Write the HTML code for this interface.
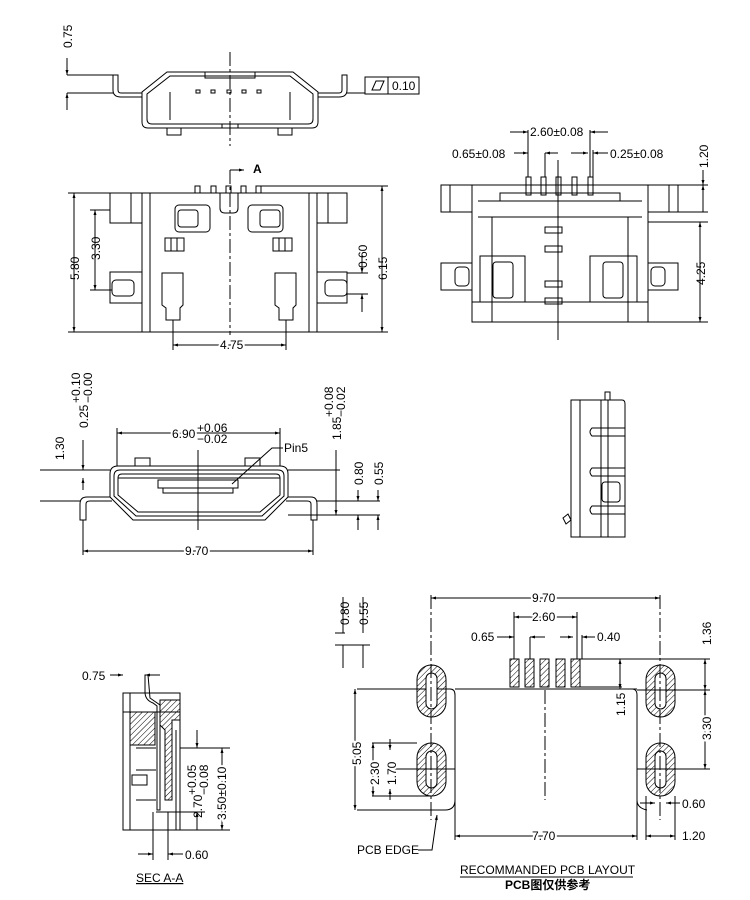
<!DOCTYPE html>
<html><head><meta charset="utf-8"><style>
html,body{margin:0;padding:0;background:#fff}
svg{display:block}
text{font-family:"Liberation Sans","Noto Sans CJK SC",sans-serif;font-size:12px;fill:#000}
</style></head><body>
<svg width="750" height="900" viewBox="0 0 750 900" xmlns="http://www.w3.org/2000/svg">
<defs>
<pattern id="h" width="4" height="4" patternUnits="userSpaceOnUse" patternTransform="rotate(45)"><line x1="0" y1="0" x2="0" y2="4" stroke="#000" stroke-width="1"/></pattern>
<marker id="a" viewBox="0 0 10 10" refX="10" refY="5" markerWidth="7" markerHeight="5" orient="auto-start-reverse"><path d="M0,2 L10,5 L0,8z" fill="#000"/></marker>
</defs>
<g fill="none" stroke="#000" stroke-width="1">
<!-- TOP VIEW -->
<path d="M167,72 L293,72 L318,92 L318,122 Q318,128 312,128 L148,128 Q142,128 142,122 L142,92 Z"/>
<path d="M170,76 L290,76 L313,94 L313,119 Q313,124 308,124 L152,124 Q147,124 147,119 L147,94 Z"/>
<path d="M113,75 L118,75 L118,90 Q118,93 121,93 L142,93 L142,97 L121,97 Q113,97 113,90 Z"/>
<path d="M347,75 L342,75 L342,90 Q342,93 339,93 L318,93 L318,97 L339,97 Q347,97 347,90 Z"/>
<rect x="167" y="128" width="14" height="7"/><rect x="278" y="128" width="14" height="7"/>
<rect x="205" y="72" width="50" height="6"/><rect x="222" y="124" width="16" height="4"/>
<rect x="196" y="90" width="4" height="3"/><rect x="211" y="90" width="4" height="3"/><rect x="227" y="90" width="4" height="3"/><rect x="242" y="90" width="4" height="3"/><rect x="257" y="90" width="4" height="3"/>
<line x1="170" y1="92" x2="170" y2="120"/><line x1="290" y1="92" x2="290" y2="120"/>
<line x1="230" y1="52" x2="230" y2="146" stroke-dasharray="14,3,3,3"/>
<line x1="67" y1="75" x2="113" y2="75"/><line x1="67" y1="93" x2="113" y2="93"/>
<line x1="67" y1="58" x2="67" y2="75" marker-end="url(#a)"/><line x1="67" y1="110" x2="67" y2="93" marker-end="url(#a)"/>
<line x1="347" y1="93" x2="365" y2="93"/>
<rect x="365" y="77" width="54" height="17"/><line x1="388" y1="77" x2="388" y2="94"/>
<path d="M372,90 L376,81 L384,81 L380,90 Z"/>
<!-- TOP VIEW 2 -->
<rect x="142" y="193" width="175" height="139"/>
<line x1="150" y1="193" x2="150" y2="332"/><line x1="309" y1="193" x2="309" y2="332"/>
<rect x="110" y="193" width="32" height="30"/><line x1="131" y1="193" x2="131" y2="223"/>
<rect x="317" y="193" width="30" height="30"/><line x1="328" y1="193" x2="328" y2="223"/>
<rect x="110" y="272" width="32" height="31"/><rect x="112" y="280" width="22" height="16" rx="4"/>
<rect x="317" y="272" width="30" height="31"/><rect x="325" y="280" width="22" height="16" rx="4"/>
<rect x="195" y="186" width="5" height="7"/><rect x="211" y="186" width="5" height="7"/><rect x="226" y="186" width="5" height="7"/><rect x="241" y="186" width="5" height="7"/><rect x="256" y="186" width="5" height="7"/>
<path d="M220,193 L220,208 Q220,213 225,213 L233,213 Q238,213 238,208 L238,193"/>
<rect x="175" y="205" width="35" height="27" rx="4"/><rect x="178" y="210" width="20" height="17" rx="3"/>
<rect x="248" y="205" width="35" height="27" rx="4"/><rect x="260" y="210" width="20" height="17" rx="3"/>
<rect x="165" y="238" width="19" height="13"/><line x1="171" y1="238" x2="171" y2="251"/><line x1="177" y1="238" x2="177" y2="251"/>
<rect x="273" y="238" width="19" height="13"/><line x1="279" y1="238" x2="279" y2="251"/><line x1="285" y1="238" x2="285" y2="251"/>
<path d="M162,273 L183,273 L183,305 L180,308 L180,320 L166,320 L166,308 L162,305 Z"/>
<path d="M275,273 L296,273 L296,305 L293,308 L293,320 L279,320 L279,308 L275,305 Z"/>
<line x1="230" y1="170" x2="230" y2="335" stroke-dasharray="14,3,3,3"/>
<path d="M230,170 L244,170" marker-end="url(#a)"/>
<line x1="68" y1="193" x2="110" y2="193"/><line x1="68" y1="332" x2="142" y2="332"/>
<line x1="74" y1="193" x2="74" y2="332" marker-start="url(#a)" marker-end="url(#a)"/>
<line x1="90" y1="210" x2="110" y2="210"/><line x1="90" y1="290" x2="112" y2="290"/>
<line x1="95" y1="210" x2="95" y2="290" marker-start="url(#a)" marker-end="url(#a)"/>
<line x1="261" y1="186" x2="388" y2="186"/><line x1="317" y1="332" x2="388" y2="332"/>
<line x1="382" y1="186" x2="382" y2="332" marker-start="url(#a)" marker-end="url(#a)"/>
<line x1="347" y1="273" x2="368" y2="273"/><line x1="347" y1="294" x2="368" y2="294"/>
<line x1="362" y1="255" x2="362" y2="273" marker-end="url(#a)"/><line x1="362" y1="312" x2="362" y2="294" marker-end="url(#a)"/>
<line x1="173" y1="320" x2="173" y2="350"/><line x1="286" y1="320" x2="286" y2="350"/>
<line x1="173" y1="345" x2="286" y2="345" marker-start="url(#a)" marker-end="url(#a)"/>
<!-- RIGHT TOP VIEW -->
<rect x="472" y="185" width="176" height="137"/>
<rect x="441" y="185" width="31" height="27"/><line x1="450" y1="185" x2="450" y2="212"/>
<rect x="648" y="185" width="30" height="27"/><line x1="669" y1="185" x2="669" y2="212"/>
<rect x="441" y="263" width="31" height="27"/><rect x="455" y="267" width="14" height="19" rx="4"/>
<rect x="648" y="263" width="30" height="27"/><rect x="651" y="267" width="14" height="19" rx="4"/>
<path d="M500,201 L500,193 L620,193 L620,201"/><line x1="478" y1="201" x2="642" y2="201"/>
<line x1="478" y1="217" x2="642" y2="217"/><line x1="492" y1="217" x2="492" y2="322"/><line x1="628" y1="217" x2="628" y2="322"/>
<line x1="472" y1="302" x2="648" y2="302"/>
<rect x="480" y="256" width="45" height="46"/><rect x="493" y="262" width="20" height="36" rx="3"/>
<rect x="590" y="256" width="47" height="46"/><rect x="603" y="262" width="20" height="36" rx="3"/>
<rect x="526" y="177" width="5" height="18"/><rect x="541" y="177" width="5" height="18"/><rect x="556" y="177" width="5" height="18"/><rect x="572" y="177" width="5" height="18"/><rect x="588" y="177" width="5" height="18"/>
<rect x="545" y="227" width="17" height="6"/><rect x="545" y="246" width="17" height="6"/><rect x="545" y="281" width="17" height="6"/><rect x="545" y="298" width="17" height="6"/>
<line x1="558" y1="160" x2="558" y2="340"/>
<line x1="528" y1="130" x2="528" y2="177"/><line x1="590" y1="130" x2="590" y2="177"/>
<line x1="510" y1="132" x2="528" y2="132" marker-end="url(#a)"/><line x1="608" y1="132" x2="590" y2="132" marker-end="url(#a)"/>
<line x1="514" y1="153" x2="528" y2="153" marker-end="url(#a)"/><line x1="545" y1="153" x2="558" y2="153" marker-start="url(#a)"/>
<line x1="571" y1="153" x2="588" y2="153" marker-end="url(#a)"/><line x1="608" y1="153" x2="593" y2="153" marker-end="url(#a)"/>
<line x1="545" y1="153" x2="545" y2="177"/><line x1="593" y1="150" x2="593" y2="177"/>
<line x1="648" y1="185" x2="708" y2="185"/><line x1="678" y1="212" x2="708" y2="212"/><line x1="648" y1="222" x2="708" y2="222"/><line x1="648" y1="322" x2="708" y2="322"/>
<line x1="703" y1="170" x2="703" y2="185" marker-end="url(#a)"/><line x1="703" y1="212" x2="703" y2="185" marker-end="url(#a)"/>
<line x1="700" y1="222" x2="700" y2="322" marker-start="url(#a)" marker-end="url(#a)"/>
<!-- FRONT VIEW -->
<path d="M110,497 L110,474 Q110,466 118,466 L280,466 Q288,466 288,474 L288,497 L265,520 L133,520 Z"/>
<path d="M114,496 L114,476 Q114,470 120,470 L278,470 Q284,470 284,476 L284,496 L262,516 L136,516 Z"/>
<path d="M118,495 L118,478 Q118,474 122,474 L276,474 Q280,474 280,478 L280,495 L260,512 L138,512 Z"/>
<line x1="118" y1="478" x2="280" y2="478"/>
<rect x="135" y="458" width="15" height="8"/><rect x="245" y="458" width="15" height="8"/>
<path d="M158,480 L238,480 L238,488 L158,488 Z"/>
<path d="M163,488 L163,493 L233,493 L233,488"/>
<path d="M110,497 L87,497 Q80,497 80,504 L80,520 L86,520 L86,504 Q86,501 90,501 L112,501"/>
<path d="M288,497 L311,497 Q317,497 317,504 L317,520 L311,520 L311,504 Q311,501 307,501 L286,501"/>
<line x1="198" y1="450" x2="198" y2="530"/>
<line x1="117" y1="428" x2="117" y2="466"/><line x1="280" y1="428" x2="280" y2="466"/>
<line x1="117" y1="433" x2="280" y2="433" marker-start="url(#a)" marker-end="url(#a)"/>
<line x1="83" y1="520" x2="83" y2="555"/><line x1="313" y1="520" x2="313" y2="555"/>
<line x1="83" y1="551" x2="313" y2="551" marker-start="url(#a)" marker-end="url(#a)"/>
<path d="M232,484 L272,448 L283,448"/>
<line x1="40" y1="470" x2="110" y2="470"/><line x1="40" y1="501" x2="80" y2="501"/>
<line x1="83" y1="440" x2="83" y2="470" marker-end="url(#a)"/><line x1="83" y1="490" x2="83" y2="478" marker-end="url(#a)"/>
<line x1="288" y1="470" x2="340" y2="470"/><line x1="317" y1="501" x2="380" y2="501"/><line x1="288" y1="515" x2="380" y2="515"/>
<line x1="336" y1="450" x2="336" y2="515" marker-end="url(#a)"/>
<line x1="358" y1="490" x2="358" y2="501" marker-end="url(#a)"/><line x1="358" y1="530" x2="358" y2="515" marker-end="url(#a)"/>
<line x1="378" y1="490" x2="378" y2="501" marker-end="url(#a)"/><line x1="378" y1="530" x2="378" y2="515" marker-end="url(#a)"/>
<!-- SIDE VIEW -->
<path d="M571,400 L622,400 Q625,400 625,404 L625,537 L571,537 Z"/>
<line x1="580" y1="400" x2="580" y2="537"/><line x1="601" y1="400" x2="601" y2="537"/><line x1="608" y1="400" x2="608" y2="537"/>
<rect x="605" y="392" width="5" height="8"/>
<path d="M625,428 L592,428 Q588,432 592,436 L625,436"/>
<path d="M625,468 L592,468 Q588,472 592,476 L625,476"/>
<path d="M625,506 L592,506 Q588,510 592,514 L625,514"/>
<rect x="602" y="482" width="18" height="20" rx="3"/>
<path d="M563,518 L568,514 L571,520 L566,524 Z"/>
<!-- SECTION A-A -->
<rect x="123" y="693" width="57" height="137"/>
<line x1="123" y1="712" x2="180" y2="712"/><line x1="130" y1="693" x2="130" y2="830"/>
<path d="M130,712 L155,712 L155,745 L130,745 Z" fill="url(#h)"/>
<path d="M160,700 L180,700 L180,720 L172,720 L172,800 L165,800 L165,730 L160,725 Z" fill="url(#h)"/>
<path d="M145,675 L145,692 Q145,700 153,703 L157,706 L157,810 L160,810 L160,705 L150,698 L148,675 Z"/>
<line x1="136" y1="748" x2="156" y2="748"/><line x1="136" y1="770" x2="156" y2="770"/><line x1="136" y1="800" x2="156" y2="800"/>
<rect x="132" y="775" width="15" height="10"/>
<line x1="176" y1="730" x2="176" y2="830"/><line x1="156" y1="812" x2="180" y2="812"/>
<line x1="110" y1="675" x2="123" y2="675" marker-end="url(#a)"/><line x1="160" y1="675" x2="145" y2="675" marker-end="url(#a)"/>
<line x1="180" y1="748" x2="230" y2="748"/><line x1="180" y1="812" x2="205" y2="812"/><line x1="180" y1="830" x2="230" y2="830"/>
<line x1="197" y1="730" x2="197" y2="748" marker-end="url(#a)"/><line x1="197" y1="830" x2="197" y2="812" marker-end="url(#a)"/>
<line x1="222" y1="748" x2="222" y2="830" marker-start="url(#a)" marker-end="url(#a)"/>
<line x1="153" y1="812" x2="153" y2="860"/><line x1="168" y1="812" x2="168" y2="860"/>
<line x1="138" y1="854" x2="153" y2="854" marker-end="url(#a)"/><line x1="183" y1="854" x2="168" y2="854" marker-end="url(#a)"/>
<!-- PCB LAYOUT -->
<path d="M357,689 L450,689 Q455,689 455,695 L455,800 Q455,810 445,810 L357,810"/>
<path d="M637,689 L632,689 Q637,689 637,695 L637,800 Q637,808 647,810"/>
<line x1="455" y1="689" x2="637" y2="689"/>
<line x1="455" y1="800" x2="455" y2="840"/><line x1="637" y1="800" x2="637" y2="840"/>
<line x1="455" y1="836" x2="637" y2="836" marker-start="url(#a)" marker-end="url(#a)"/>
<g fill="url(#h)">
<rect x="417" y="665" width="29" height="52" rx="14.5"/><rect x="417" y="743" width="29" height="53" rx="14.5"/>
<rect x="646" y="665" width="29" height="52" rx="14.5"/><rect x="646" y="743" width="29" height="53" rx="14.5"/>
<rect x="510" y="659" width="9" height="28"/><rect x="525" y="659" width="9" height="28"/><rect x="540" y="659" width="9" height="28"/><rect x="556" y="659" width="9" height="28"/><rect x="571" y="659" width="9" height="28"/>
</g>
<g fill="#fff"><rect x="426" y="673" width="11" height="36" rx="5.5"/><rect x="426" y="751" width="11" height="37" rx="5.5"/><rect x="655" y="673" width="11" height="36" rx="5.5"/><rect x="655" y="751" width="11" height="37" rx="5.5"/></g>
<line x1="431" y1="595" x2="431" y2="820" stroke-dasharray="14,3,3,3"/><line x1="660" y1="595" x2="660" y2="820" stroke-dasharray="14,3,3,3"/>
<line x1="545" y1="690" x2="545" y2="800" stroke-dasharray="14,3,3,3"/>
<line x1="431" y1="598" x2="660" y2="598" marker-start="url(#a)" marker-end="url(#a)"/>
<line x1="514" y1="612" x2="514" y2="659"/><line x1="577" y1="612" x2="577" y2="659"/>
<line x1="514" y1="617" x2="577" y2="617" marker-start="url(#a)" marker-end="url(#a)"/>
<line x1="530" y1="637" x2="530" y2="659"/><line x1="582" y1="635" x2="582" y2="659"/>
<line x1="497" y1="637" x2="514" y2="637" marker-end="url(#a)"/><line x1="595" y1="637" x2="582" y2="637" marker-end="url(#a)"/>
<line x1="530" y1="637" x2="545" y2="637" marker-start="url(#a)"/><line x1="560" y1="637" x2="573" y2="637" marker-end="url(#a)"/>
<line x1="580" y1="659" x2="710" y2="659"/><line x1="580" y1="687" x2="622" y2="687"/><line x1="637" y1="690" x2="710" y2="690"/>
<line x1="620" y1="659" x2="620" y2="689" marker-start="url(#a)" marker-end="url(#a)"/>
<line x1="705" y1="659" x2="705" y2="690" marker-start="url(#a)" marker-end="url(#a)"/>
<line x1="637" y1="769" x2="710" y2="769"/><line x1="705" y1="690" x2="705" y2="769" marker-start="url(#a)" marker-end="url(#a)"/>
<line x1="355" y1="689" x2="355" y2="810" marker-start="url(#a)" marker-end="url(#a)"/>
<line x1="372" y1="743" x2="417" y2="743"/><line x1="372" y1="796" x2="431" y2="796"/><line x1="390" y1="769" x2="455" y2="769"/>
<line x1="373" y1="743" x2="373" y2="796" marker-start="url(#a)" marker-end="url(#a)"/>
<line x1="390" y1="739" x2="390" y2="750" marker-end="url(#a)"/>
<line x1="390" y1="800" x2="390" y2="789" marker-end="url(#a)"/>
<line x1="640" y1="803" x2="655" y2="803" marker-end="url(#a)"/><line x1="680" y1="803" x2="666" y2="803" marker-end="url(#a)"/>
<line x1="646" y1="796" x2="646" y2="840"/><line x1="675" y1="796" x2="675" y2="840"/>
<line x1="646" y1="836" x2="675" y2="836" marker-start="url(#a)" marker-end="url(#a)"/>
<path d="M418,850 L432,850 L437,815" marker-end="url(#a)"/>
<line x1="343" y1="597" x2="343" y2="633"/><line x1="363" y1="597" x2="363" y2="633"/>
<line x1="343" y1="645" x2="343" y2="668"/><line x1="363" y1="645" x2="363" y2="668"/>
<line x1="335" y1="633" x2="345" y2="633"/><line x1="335" y1="645" x2="370" y2="645"/>
<line x1="460" y1="877" x2="633" y2="877"/>
</g>
<g>
<text transform="translate(72,48) rotate(-90)">0.75</text>
<text x="392" y="90">0.10</text>
<text x="253" y="173" font-weight="bold" font-size="10">A</text>
<text transform="translate(79,280) rotate(-90)">5.80</text>
<text transform="translate(100,260) rotate(-90)">3.30</text>
<text transform="translate(367,268) rotate(-90)">0.60</text>
<text transform="translate(387,280) rotate(-90)">6.15</text>
<text x="220" y="349" fill="#000" style="paint-order:stroke" stroke="#fff" stroke-width="4">4.75</text>
<text x="530" y="136" style="paint-order:stroke" stroke="#fff" stroke-width="4">2.60±0.08</text>
<text x="452" y="158">0.65±0.08</text>
<text x="610" y="158">0.25±0.08</text>
<text transform="translate(708,168) rotate(-90)">1.20</text>
<text transform="translate(705,285) rotate(-90)">4.25</text>
<text transform="translate(64,460) rotate(-90)">1.30</text>
<text transform="translate(88,428) rotate(-90)">0.25</text>
<text transform="translate(80,403) rotate(-90)" font-size="11">+0.10</text>
<text transform="translate(92,403) rotate(-90)" font-size="11">−0.00</text>
<text x="172" y="438" style="paint-order:stroke" stroke="#fff" stroke-width="4">6.90</text>
<text x="197" y="432" font-size="11">+0.06</text>
<text x="197" y="443" font-size="11">−0.02</text>
<text x="284" y="452">Pin5</text>
<text transform="translate(341,440) rotate(-90)">1.85</text>
<text transform="translate(333,417) rotate(-90)" font-size="11">+0.08</text>
<text transform="translate(345,417) rotate(-90)" font-size="11">−0.02</text>
<text transform="translate(363,485) rotate(-90)">0.80</text>
<text transform="translate(383,485) rotate(-90)">0.55</text>
<text x="185" y="555" style="paint-order:stroke" stroke="#fff" stroke-width="4">9.70</text>
<text x="82" y="680">0.75</text>
<text transform="translate(202,818) rotate(-90)">2.70</text>
<text transform="translate(196,795) rotate(-90)" font-size="11">+0.05</text>
<text transform="translate(208,795) rotate(-90)" font-size="11">−0.08</text>
<text transform="translate(226,820) rotate(-90)" style="paint-order:stroke" stroke="#fff" stroke-width="4">3.50±0.10</text>
<text x="185" y="859">0.60</text>
<text x="136" y="882" font-size="9" text-decoration="underline">SEC A-A</text>
<text transform="translate(349,625) rotate(-90)">0.80</text>
<text transform="translate(368,625) rotate(-90)">0.55</text>
<text x="532" y="602" style="paint-order:stroke" stroke="#fff" stroke-width="4">9.70</text>
<text x="532" y="621" style="paint-order:stroke" stroke="#fff" stroke-width="4">2.60</text>
<text x="471" y="641">0.65</text>
<text x="597" y="641">0.40</text>
<text transform="translate(711,645) rotate(-90)">1.36</text>
<text transform="translate(625,716) rotate(-90)" style="paint-order:stroke" stroke="#fff" stroke-width="4">1.15</text>
<text transform="translate(711,740) rotate(-90)" style="paint-order:stroke" stroke="#fff" stroke-width="4">3.30</text>
<text transform="translate(361,765) rotate(-90)" style="paint-order:stroke" stroke="#fff" stroke-width="4">5.05</text>
<text transform="translate(379,785) rotate(-90)" style="paint-order:stroke" stroke="#fff" stroke-width="4">2.30</text>
<text transform="translate(396,785) rotate(-90)" style="paint-order:stroke" stroke="#fff" stroke-width="4">1.70</text>
<text x="532" y="840" style="paint-order:stroke" stroke="#fff" stroke-width="4">7.70</text>
<text x="682" y="808">0.60</text>
<text x="682" y="840">1.20</text>
<text x="357" y="854">PCB EDGE</text>
<text x="460" y="874">RECOMMANDED PCB LAYOUT</text>
<text x="505" y="889" font-size="10" font-weight="bold">PCB图仅供参考</text>
</g>
</svg>
</body></html>
